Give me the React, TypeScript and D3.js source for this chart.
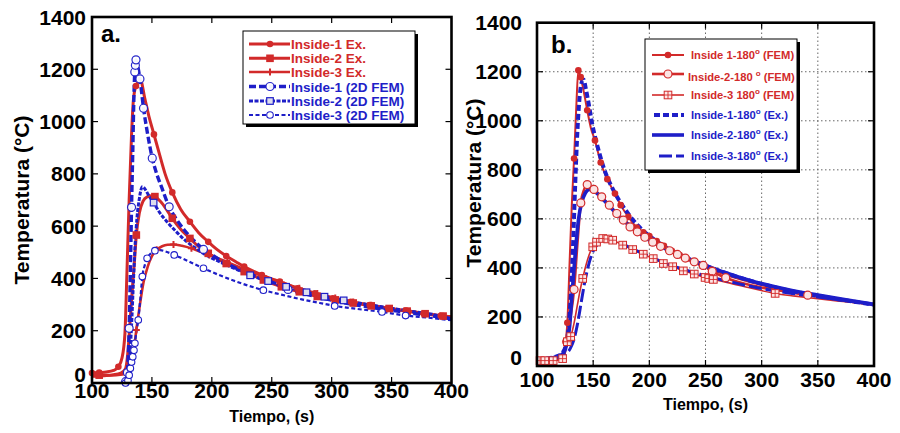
import React from 'react';
import * as d3 from 'd3';

// ---------- data ----------
// each point: [tiempo (s), temperatura (°C), marker flag]
const xTicks = [100, 150, 200, 250, 300, 350, 400];
const yTicks = [0, 200, 400, 600, 800, 1000, 1200, 1400];

const aLegend = ['Inside-1 Ex.', 'Inside-2 Ex.', 'Inside-3 Ex.', 'Inside-1 (2D FEM)', 'Inside-2 (2D FEM)', 'Inside-3 (2D FEM)'];

const aEx1 = [[100,38,1],[106,40,1],[112,42],[118,48],[122,62,1],[125,95],[127.5,190],[129,400],[131,700],[133,950],[134.5,1080],[136.7,1136,1],[140.5,1158],[144,1090],[147.5,1020],[151.7,951,1],[156,880],[161,800],[167,729,1],[174,665],[181.7,617,1],[189,575],[197,540,1],[204.5,510],[212,486,1],[220,464],[227,445,1],[234.5,428],[241.7,413,1],[249,400],[256.7,388,1],[264,375],[271.4,362,1],[286,343,1],[301,324,1],[316,311,1],[331.7,298,1],[347,286,1],[361.7,277,1],[376.7,266,1],[391,257,1],[400,253]];
const aEx2 = [[100,28],[106,30,1],[112,30],[118,32],[124,38],[128,55],[130,120],[132,250],[134,380],[135.5,470],[137,566,1],[139.5,650],[142.5,695],[146,712],[150,716],[152.5,713,1],[157,695],[162,665],[167,630,1],[174,588],[181.7,553,1],[189,522],[197,496,1],[204.5,476],[212,457,1],[220,440],[227,426,1],[235,410],[243,394,1],[250,381],[258,368,1],[265.5,358],[273,349,1],[288,331,1],[303,318,1],[318,306,1],[333,295,1],[348,285,1],[363,275,1],[378,265,1],[393,256,1],[400,252]];
const aEx3 = [[100,25],[110,27],[120,30],[128,35],[131,50],[133,80],[135,130],[137,203,1],[140,300],[143,385],[146.5,445],[150,485],[154,510,1],[158.5,523],[163,529],[168,530,1],[175,525],[183,515,1],[190,503],[198,490,1],[205,477],[213,462,1],[220,449],[228,434,1],[235,421],[243,408,1],[250,396],[258,384,1],[273,362,1],[288,342,1],[303,325,1],[318,310,1],[333,297,1],[348,285,1],[363,274,1],[378,264,1],[393,255,1],[400,251]];
const aFem1 = [[128,5,1],[129.5,40,1],[131,209,1],[132,420],[133,672,1],[134,880],[135,1100],[135.7,1190,1],[136.2,1215,1],[136.7,1236,1],[138,1215],[140,1163,1],[143,1051,1],[146.5,950],[150.3,860,1],[154,800],[158,750],[164.4,674,1],[170,630],[177,585],[185,545],[193,511,1],[200,490],[210,462],[220,440],[230,420],[240,402],[250,386],[263.6,358,1],[275,344],[290,327],[305,312],[320,299],[335,288],[350,278],[365,268],[380,259],[400,246]];
const aFem2 = [[128,5],[130,30],[131.5,100],[133,220],[134.5,380],[136,530],[137.5,630],[139.5,705],[142,751],[144.5,740],[147,720],[151.4,690,1],[156,655],[162,620],[170,580],[178,545],[186,517],[195,490],[205,467],[215,446],[224,428],[232,412,1],[247,390,1],[262,368,1],[279,347,1],[294,330,1],[310,316,1],[325,304],[340,293],[355,282],[370,272],[385,262],[400,245]];
const aFem3 = [[128,0,1],[130,10,1],[131,30,1],[132,56,1],[133,80,1],[134,100,1],[135,125,1],[135.8,152,1],[137,195],[138.6,241,1],[140.3,320],[142,407,1],[144,450],[146,477,1],[149,495],[152.5,506,1],[157,508],[162,502],[168.6,490,1],[175,477],[183,460],[193,439,1],[205,415],[218,392],[230,373],[243,355,1],[258,338],[275,320],[290,306],[302.5,295,1],[320,284],[342,272,1],[361.7,258,1],[380,250],[400,240]];

const bLegend = ['Inside 1-180', 'Inside-2-180 ', 'Inside-3 180', 'Inside-1-180', 'Inside-2-180', 'Inside-3-180'];
const bLegendTail = [' (FEM)', ' (FEM)', ' (FEM)', ' (Ex.)', ' (Ex.)', ' (Ex.)'];

const bFem1 = [[100,22],[106,24],[112,27],[118,32],[122,45],[125,90],[127,176,1],[129,420],[131,660],[133,846,1],[135,1060],[136.8,1206,1],[138.9,1178,1],[142,1110],[144.7,1043,1],[148,970],[151.6,920,1],[156.7,830,1],[162.6,762,1],[169.4,703,1],[174.5,656,1],[181.3,608,1],[188.7,565,1],[194.6,545,1],[200,530,1],[206.5,510,1],[213,490,1],[220,470,1],[227,452,1],[233.5,437,1],[240,422,1],[247,407,1],[255.5,392,1],[265,376],[280,355],[300,330],[320,309],[340,291],[360,276],[380,262],[400,250]];
const bFem2 = [[100,20],[110,22],[120,30],[124,55],[126.4,99,1],[129.5,190],[133,312,1],[136,500],[139,665,1],[142,720],[144.7,740,1],[150.7,720,1],[157.6,690,1],[164.4,656,1],[171,622,1],[176.8,595,1],[182.8,567,1],[189.3,547,1],[196,525,1],[203,505,1],[210,488,1],[218,470,1],[225,455,1],[232,440,1],[240,425,1],[248,410,1],[256,386,1],[268,360,1],[285,335],[300,320],[320,305],[341,289,1],[360,276],[380,262],[400,250]];
const bFem3 = [[102.7,22,1],[107,22,1],[114.4,22,1],[118,24],[122.8,30,1],[125,50],[127,99,1],[130,120,1],[133,175],[136,250],[138,300],[140.7,357,1],[143.5,410],[146.5,455],[149.6,486,1],[153,505,1],[158.5,520,1],[163,518,1],[167.4,513,1],[176.3,493,1],[185.2,475,1],[194.6,456,1],[203.5,438,1],[212.5,418,1],[220.8,405,1],[230.3,388,1],[240,375,1],[249.6,361,1],[253,357,1],[257,353,1],[270,340],[290,318],[312,296,1],[330,285],[350,274],[375,262],[400,250]];
const bEx1 = [[100,28],[110,32],[118,40],[123,55],[126,90],[128,150],[130,280],[132,480],[134,740],[136,960],[138,1100],[140,1160],[141.5,1168],[143.5,1130],[146,1070],[149,990],[152.5,920],[156,860],[160,800],[165,745],[170,700],[176,655],[183,610],[190,572],[198,538],[206,510],[215,482],[225,458],[235,437],[245,418],[255,400],[265,384],[275,368],[285,354],[300,335],[320,312],[340,294],[360,278],[380,264],[400,250]];
const bEx2 = [[100,26],[110,30],[118,38],[123,50],[126,80],[129,160],[131,280],[133,400],[135,510],[137,600],[140,670],[143,705],[146.5,720],[150,716],[155,698],[160,674],[165,650],[170,625],[177,595],[185,563],[193,535],[200,513],[210,488],[220,466],[230,446],[240,428],[250,410],[260,393],[270,377],[280,362],[295,342],[310,325],[330,305],[350,289],[375,270],[400,252]];
const bEx3 = [[100,24],[110,28],[120,36],[126,50],[130,75],[133,110],[136,170],[139,250],[142,330],[145,395],[148,445],[152,485],[157,508],[163,515],[170,508],[178,493],[186,476],[195,457],[205,437],[215,418],[225,402],[235,388],[245,374],[255,362],[265,351],[280,335],[295,320],[310,308],[330,294],[350,281],[375,266],[400,250]];

// ---------- styles ----------
const RED = '#d22a2a';
const BLUE = '#1e1ec8';
const FONT = '"Liberation Sans", Arial, Helvetica, sans-serif';

const aSeries = [
  { data: aEx1, color: RED, width: 3, dash: null, marker: 'dot' },
  { data: aEx2, color: RED, width: 3, dash: null, marker: 'square' },
  { data: aEx3, color: RED, width: 2.6, dash: null, marker: 'plus' },
  { data: aFem1, color: BLUE, width: 3.4, dash: '7,3', marker: 'ocircle' },
  { data: aFem2, color: BLUE, width: 3, dash: '4,1.5', marker: 'osquare' },
  { data: aFem3, color: BLUE, width: 2.2, dash: '4,2.5', marker: 'ocircleS' },
];
const bSeries = [
  { data: bFem1, color: RED, width: 2, dash: null, marker: 'dot' },
  { data: bFem2, color: RED, width: 2.6, dash: null, marker: 'pcircle' },
  { data: bFem3, color: RED, width: 1.6, dash: null, marker: 'xsquare' },
  { data: bEx1, color: BLUE, width: 4, dash: '6,3', marker: null },
  { data: bEx2, color: BLUE, width: 3.6, dash: null, marker: null },
  { data: bEx3, color: BLUE, width: 3, dash: '13,4', marker: null },
];

function Marker({ kind, x, y, color }: any) {
  switch (kind) {
    case 'dot':
      return <circle cx={x} cy={y} r={3.3} fill={color} />;
    case 'square':
      return <rect x={x - 3.8} y={y - 3.8} width={7.6} height={7.6} fill={color} />;
    case 'plus':
      return <path d={`M${x - 3.5},${y}H${x + 3.5}M${x},${y - 3.5}V${y + 3.5}`} stroke={color} strokeWidth={2} />;
    case 'ocircle':
      return <circle cx={x} cy={y} r={4} fill="#fff" stroke={color} strokeWidth={1.2} opacity={0.95} />;
    case 'ocircleS':
      return <circle cx={x} cy={y} r={3.3} fill="#fff" stroke={color} strokeWidth={1.1} />;
    case 'osquare':
      return <rect x={x - 3.3} y={y - 3.3} width={6.6} height={6.6} fill="#dde" stroke={color} strokeWidth={1.2} />;
    case 'pcircle':
      return <circle cx={x} cy={y} r={4} fill="#fbe3e3" stroke={color} strokeWidth={1.2} />;
    case 'xsquare':
      return (
        <g>
          <rect x={x - 3.8} y={y - 3.8} width={7.6} height={7.6} fill="#fde6e6" stroke={color} strokeWidth={1} />
          <path d={`M${x - 3.8},${y}H${x + 3.8}M${x},${y - 3.8}V${y + 3.8}`} stroke={color} strokeWidth={0.9} />
        </g>
      );
    default:
      return null;
  }
}

function Panel({ series, x0, x1, y0, y1, grid, label, labelX, labelY, yTitleX, yTitleY, xLabY, xTitleY, yLabX }: any) {
  const x = d3.scaleLinear().domain([100, 400]).range([x0, x1]);
  const y = d3.scaleLinear().domain([0, 1400]).range([y0, y1]);
  const line = d3.line<any>().x((d) => x(d[0])).y((d) => y(d[1])).curve(d3.curveMonotoneX);
  const reds = series.filter((s: any) => s.color === RED);
  const blues = series.filter((s: any) => s.color === BLUE);
  const drawLine = (s: any, i: number) => (
    <path key={'l' + i} d={line(s.data) || ''} fill="none" stroke={s.color} strokeWidth={s.width}
      strokeDasharray={s.dash || undefined} strokeLinejoin="round" />
  );
  const drawMarkers = (s: any, i: number) => (
    <g key={'m' + i}>
      {s.marker && s.data.filter((d: any) => d[2]).map((d: any, j: number) => (
        <Marker key={j} kind={s.marker} x={x(d[0])} y={y(d[1])} color={s.color} />
      ))}
    </g>
  );
  return (
    <g>
      {grid && (
        <g stroke="#666" strokeWidth={1} strokeDasharray="1.5,2.5">
          {xTicks.slice(1, -1).map((t) => <line key={'gx' + t} x1={x(t)} x2={x(t)} y1={y0} y2={y1} />)}
          {yTicks.slice(1, -1).map((t) => <line key={'gy' + t} x1={x0} x2={x1} y1={y(t)} y2={y(t)} />)}
        </g>
      )}
      <g stroke="#000" strokeWidth={1.2}>
        {xTicks.slice(1, -1).map((t) => (
          <g key={'tx' + t}>
            <line x1={x(t)} x2={x(t)} y1={y0} y2={y0 - 6} />
            <line x1={x(t)} x2={x(t)} y1={y1} y2={y1 + 6} />
          </g>
        ))}
        {yTicks.slice(1, -1).map((t) => (
          <g key={'ty' + t}>
            <line x1={x0} x2={x0 + 6} y1={y(t)} y2={y(t)} />
            <line x1={x1} x2={x1 - 6} y1={y(t)} y2={y(t)} />
          </g>
        ))}
      </g>
      {reds.map(drawLine)}
      {blues.map((s: any, i: number) => drawLine(s, i + 10))}
      {reds.map(drawMarkers)}
      {blues.map((s: any, i: number) => drawMarkers(s, i + 10))}
      <rect x={x0} y={y1} width={x1 - x0} height={y0 - y1} fill="none" stroke="#000" strokeWidth={2.6} />
      <g fontFamily={FONT} fontWeight="bold" fontSize={21} fill="#000">
        {xTicks.map((t) => (
          <text key={'xl' + t} x={x(t)} y={xLabY} textAnchor="middle">{t}</text>
        ))}
        {yTicks.map((t) => (
          <text key={'yl' + t} x={yLabX} y={y(t) + 7.5 - (t === 0 ? 9 : 0)} textAnchor="end">{t}</text>
        ))}
        <text x={(x0 + x1) / 2} y={xTitleY} fontSize={16} textAnchor="middle">Tiempo, (s)</text>
        <text transform={`translate(${yTitleX},${yTitleY}) rotate(-90)`} textAnchor="middle">Temperatura (°C)</text>
        <text x={labelX} y={labelY} fontSize={24}>{label}</text>
      </g>
    </g>
  );
}

function LegendA() {
  const bx = 243, by = 31, bw = 172, bh = 93;
  const rows = [44, 58.3, 72, 86.5, 101, 115];
  return (
    <g>
      <rect x={bx + 3} y={by + 3} width={bw} height={bh} fill="#000" />
      <rect x={bx} y={by} width={bw} height={bh} fill="#fff" stroke="#000" strokeWidth={1} />
      {aSeries.map((s, i) => (
        <g key={i}>
          <line x1={249} x2={290} y1={rows[i]} y2={rows[i]} stroke={s.color} strokeWidth={s.width}
            strokeDasharray={s.dash || undefined} />
          <Marker kind={s.marker} x={270} y={rows[i]} color={s.color} />
          <text x={291} y={rows[i] + 5} fontFamily={FONT} fontWeight="bold" fontSize={13.5} fill={s.color}>{aLegend[i]}</text>
        </g>
      ))}
    </g>
  );
}

function LegendB() {
  const bx = 645, by = 39, bw = 152, bh = 131;
  const rows = [55, 74, 95, 115, 135, 156];
  const lineStart = [652, 652, 652, 654, 652, 659];
  return (
    <g>
      <rect x={bx + 3} y={by + 3} width={bw} height={bh} fill="#000" />
      <rect x={bx} y={by} width={bw} height={bh} fill="#fff" stroke="#000" strokeWidth={1} />
      {bSeries.map((s, i) => (
        <g key={i}>
          <line x1={lineStart[i]} x2={684} y1={rows[i]} y2={rows[i]} stroke={s.color} strokeWidth={s.width}
            strokeDasharray={s.dash || undefined} />
          {s.marker && <Marker kind={s.marker} x={668} y={rows[i]} color={s.color} />}
          <text x={i === 1 ? 688 : 691} y={rows[i] + 4 + (i === 1 ? 3 : 0)} fontFamily={FONT} fontWeight="bold" fontSize={11.2} fill={s.color}>
            {bLegend[i]}
            <tspan fontSize={8} dy={-5}>o</tspan>
            <tspan dy={5}>{bLegendTail[i]}</tspan>
          </text>
        </g>
      ))}
    </g>
  );
}

export default function App() {
  return (
    <svg width={900} height={433} style={{ position: 'absolute', left: 0, top: 0, background: '#fff' }}>
      <rect x={0} y={0} width={900} height={433} fill="#fff" />
      <Panel series={aSeries} x0={92} x1={451.5} y0={383} y1={17} grid={false}
        label="a." labelX={101} labelY={42} yTitleX={29} yTitleY={200} xLabY={398} xTitleY={422} yLabX={86} />
      <LegendA />
      <Panel series={bSeries} x0={537} x1={874} y0={366} y1={22.7} grid={true}
        label="b." labelX={551} labelY={53} yTitleX={481} yTitleY={183} xLabY={387} xTitleY={410} yLabX={522} />
      <LegendB />
    </svg>
  );
}
